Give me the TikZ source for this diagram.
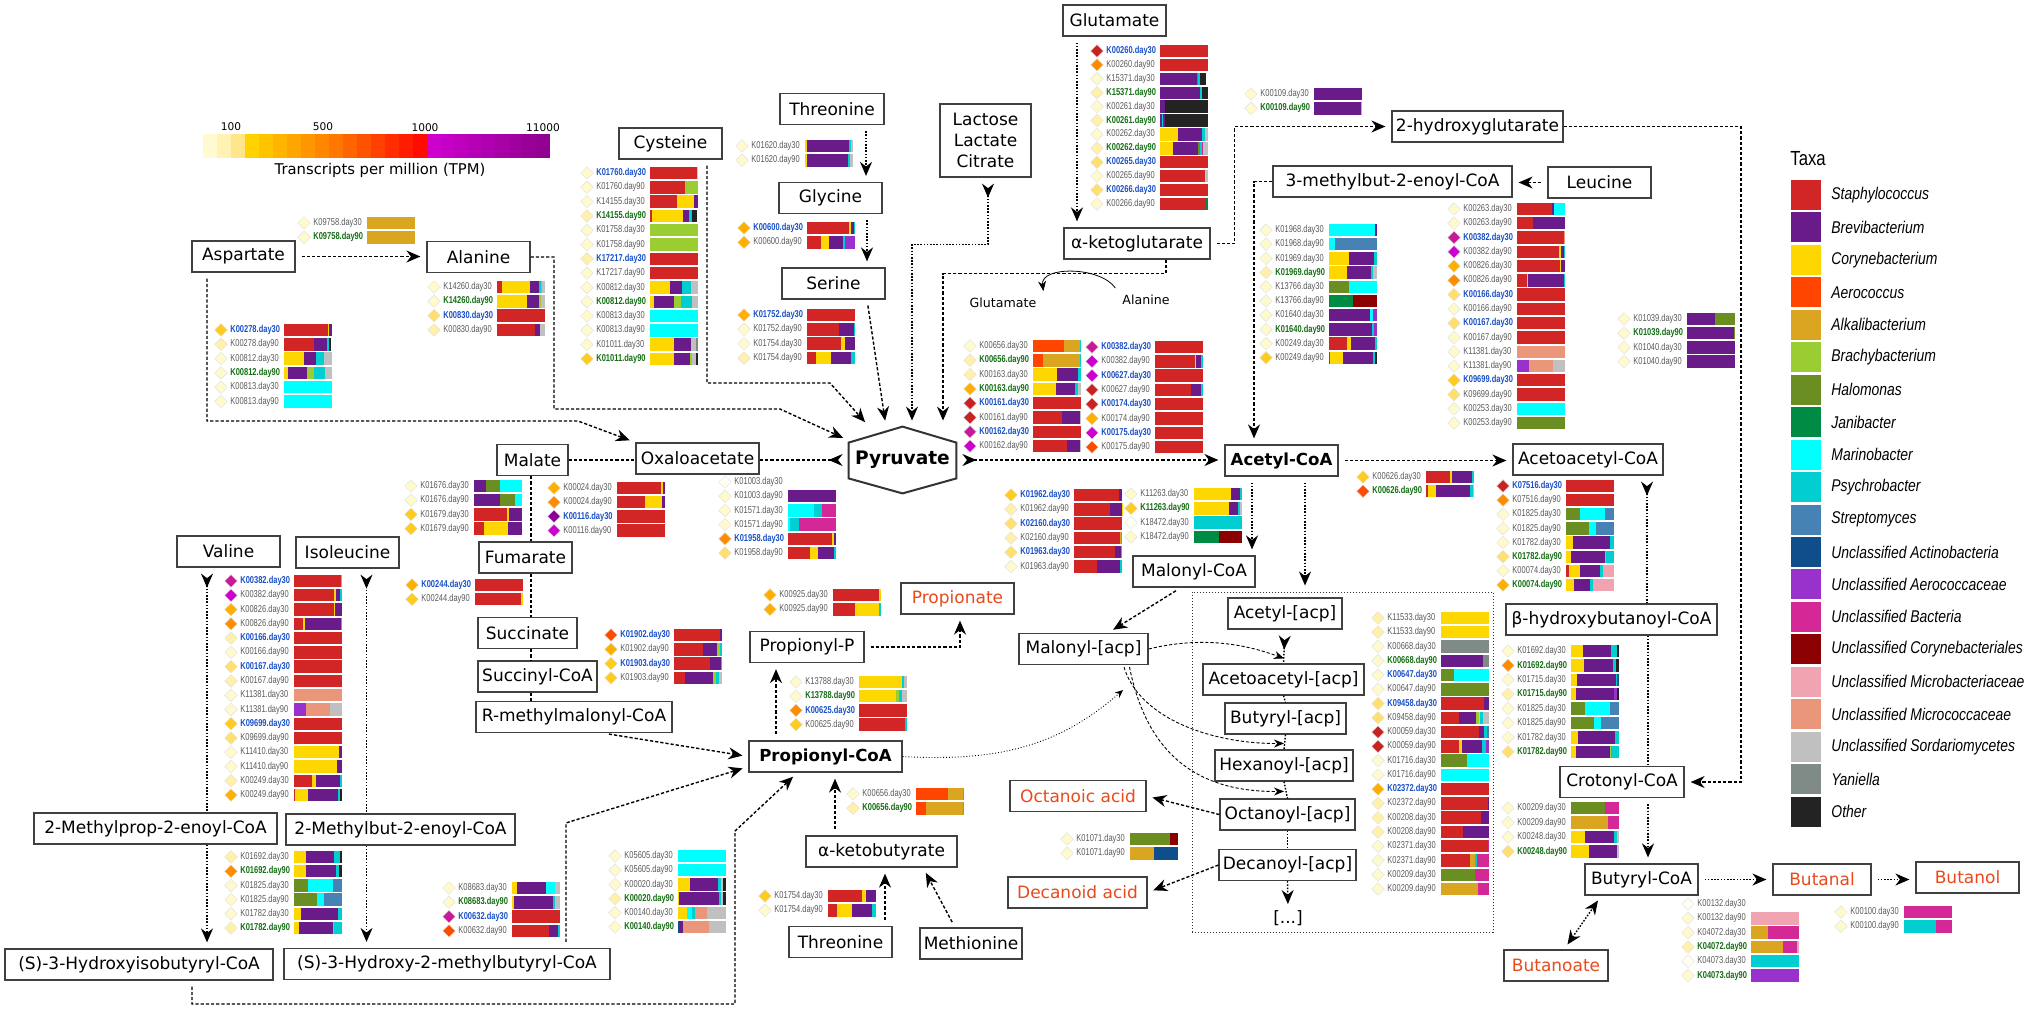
\documentclass[tikz,border=0pt]{standalone}
\usepackage{fontspec}
\setmainfont{DejaVu Sans}
\newfontfamily\genefam[FakeStretch=0.75]{Liberation Sans}
\newfontfamily\legfam[FakeStretch=0.82]{Liberation Sans}
\usetikzlibrary{arrows.meta,shapes.geometric,calc}

\definecolor{Sta}{RGB}{210,38,38}
\definecolor{Bre}{RGB}{106,27,138}
\definecolor{Cor}{RGB}{255,215,0}
\definecolor{Aer}{RGB}{255,69,0}
\definecolor{Alk}{RGB}{218,165,32}
\definecolor{Bra}{RGB}{154,205,50}
\definecolor{Hal}{RGB}{107,142,35}
\definecolor{Jan}{RGB}{0,139,69}
\definecolor{Mar}{RGB}{0,255,255}
\definecolor{Psy}{RGB}{0,206,209}
\definecolor{Str}{RGB}{70,130,180}
\definecolor{UAc}{RGB}{16,78,139}
\definecolor{UAe}{RGB}{153,50,204}
\definecolor{UBa}{RGB}{212,40,150}
\definecolor{UCo}{RGB}{139,0,0}
\definecolor{UMb}{RGB}{240,163,177}
\definecolor{UMc}{RGB}{233,150,122}
\definecolor{USo}{RGB}{192,192,192}
\definecolor{Yan}{RGB}{128,138,135}
\definecolor{Oth}{RGB}{35,35,35}
\definecolor{tp0}{RGB}{255,254,242}
\definecolor{tp1}{RGB}{255,250,205}
\definecolor{tp2}{RGB}{255,240,170}
\definecolor{tp3}{RGB}{255,224,110}
\definecolor{tp4}{RGB}{255,203,30}
\definecolor{tp5}{RGB}{255,175,0}
\definecolor{tp6}{RGB}{255,140,0}
\definecolor{tp7}{RGB}{255,75,0}
\definecolor{tp8}{RGB}{200,35,35}
\definecolor{tp9}{RGB}{205,0,205}
\definecolor{tpm}{RGB}{200,25,150}
\definecolor{tp10}{RGB}{140,0,150}
\definecolor{glgray}{RGB}{90,90,90}
\definecolor{glblue}{RGB}{25,80,200}
\definecolor{glgreen}{RGB}{20,110,20}
\definecolor{prod}{RGB}{232,74,28}

\newcommand\bfnt{\fontsize{8.5}{10.5}\selectfont}
\newcommand\bbfnt{\fontsize{8.3}{10}\selectfont\bfseries}
\newcommand\gfnt{\genefam\fontsize{5}{6}\selectfont}
\newcommand\sfnt{\fontsize{6.3}{7.5}\selectfont}

\tikzset{
  x=0.5pt, y=-0.5pt,
  box/.style={draw=black!75, line width=0.6pt, fill=white, minimum height=15.5pt, inner sep=0pt, font=\bfnt},
  bbox/.style={box, font=\bbfnt},
  pbox/.style={box, text=prod},
  lnk/.style={line width=0.7pt, dash pattern=on 1.6pt off 1pt},
  dlnk/.style={line width=0.7pt, dash pattern=on 0.8pt off 0.8pt},
  fine/.style={line width=0.45pt, dash pattern=on 1.6pt off 1pt},
  hd/.style={-{Stealth[length=7pt,width=6pt]}, shorten >=3pt},
  tl/.style={{Stealth[length=7pt,width=6pt,reversed]}-, shorten <=3pt},
  tlhd/.style={{Stealth[length=7pt,width=6pt,reversed]}-{Stealth[length=7pt,width=6pt]}, shorten <=3pt, shorten >=3pt},
  gp/.style={shorten <=3pt},
  gdia/.style={diamond, minimum size=6.4pt, inner sep=0pt, draw=black!12, line width=0.2pt},
  glab/.style={anchor=west, inner sep=0pt, font=\gfnt},
  gl/.style={text=glgray},
  gb/.style={text=glblue, font=\gfnt\bfseries},
  gv/.style={text=glgreen, font=\gfnt\bfseries}
}

\newcommand\geneset[3]{\xdef\gX{#1}\xdef\gY{#2}\xdef\gS{#3}}
\newcommand\generow[4]{%
  \node[gdia, fill=#1] at (\gX,\gY) {};
  \node[glab, #2] at (\gX+9,\gY) {#3};
  \coordinate (gcur) at (\gX+63,\gY+6.2);
  \foreach \tc/\tw in {#4}{
    \fill[\tc] (gcur) rectangle ++(\tw*48,-12.4) coordinate (gtmp);
    \coordinate (gcur) at ($(gtmp)+(0,12.4)$);
  }
  \pgfmathparse{\gY+\gS}\xdef\gY{\pgfmathresult}%
}

\begin{document}
\begin{tikzpicture}
  \fill[white] (0,0) rectangle (2032,1009);
  \useasboundingbox (0,0) rectangle (2032,1009);

  % colour scale
  \foreach \g/\b [count=\i from 0] in {250/210,242/180,230/140,210/0,195/0,180/0,165/0,150/0,135/0,118/0,100/0,82/0,64/0,45/0,28/0,12/0}{
    \definecolor{cbc}{RGB}{255,\g,\b}
    \fill[cbc] (203+\i*14,134) rectangle ++(14.3,24);
  }
  \foreach \r [count=\i from 0] in {205,198,190,182,175,167,160,152,145}{
    \definecolor{cbc}{RGB}{\r,0,\r}
    \fill[cbc] (427+\i*13.6,134) rectangle ++(13.9,24);
  }
  \node[font=\fontsize{5.3}{6}\selectfont] (cbA) at (231,127) {100};
  \node[font=\fontsize{5.3}{6}\selectfont] (cbB) at (323,127) {500};
  \node[font=\fontsize{5.3}{6}\selectfont] (cbC) at (425,128) {1000};
  \node[font=\fontsize{5.3}{6}\selectfont] (cbD) at (543,128) {11000};
  \node[font=\fontsize{7.4}{9}\selectfont] (cbT) at (380,170) {Transcripts per million (TPM)};

  % legend
  \node[anchor=west, inner sep=0pt, font=\legfam\fontsize{10.2}{12}\selectfont] (taxa) at (1790,159) {Taxa};
  \foreach \tc/\tn [count=\i from 0] in {Sta/Staphylococcus, Bre/Brevibacterium, Cor/Corynebacterium, Aer/Aerococcus, Alk/Alkalibacterium, Bra/Brachybacterium, Hal/Halomonas, Jan/Janibacter, Mar/Marinobacter, Psy/Psychrobacter, Str/Streptomyces, UAc/Unclassified Actinobacteria, UAe/Unclassified Aerococcaceae, UBa/Unclassified Bacteria, UCo/Unclassified Corynebacteriales, UMb/Unclassified Microbacteriaceae, UMc/Unclassified Micrococcaceae, USo/Unclassified Sordariomycetes, Yan/Yaniella, Oth/Other}{
    \fill[\tc] (1791,180+\i*32.45) rectangle ++(30,30);
    \node[anchor=west, inner sep=0pt, font=\legfam\itshape\fontsize{8.5}{10}\selectfont] (leg\i) at (1831,195+\i*32.45) {\tn};
  }

  \node[draw=black!80, densely dotted, line width=0.5pt, minimum width=150.5pt, minimum height=170pt, inner sep=0pt] (fas) at (1342.5,762) {};
  \coordinate (fasin) at (1123,690);

  % compounds
  \node[box, minimum width=51.5pt] (asp) at (243.5,256.5) {Aspartate};
  \node[box, minimum width=51.5pt] (ala) at (478.5,257) {Alanine};
  \node[box, minimum width=51.5pt] (cys) at (670.5,143.5) {Cysteine};
  \node[box, minimum width=52pt] (thr) at (832,109) {Threonine};
  \node[box, minimum width=51.5pt] (gly) at (830.5,198) {Glycine};
  \node[box, minimum width=51.5pt] (ser) at (833.5,283.5) {Serine};
  \node[box, minimum width=45.5pt, minimum height=36.5pt, align=center] (lac) at (985.5,140.5) {Lactose\\Lactate\\Citrate};
  \node[box, minimum width=51.5pt] (glu) at (1114.5,20.5) {Glutamate};
  \node[box, minimum width=73pt] (akg) at (1137,243.5) {α-ketoglutarate};
  \node[box, minimum width=85.5pt] (hg) at (1477.5,126.5) {2-hydroxyglutarate};
  \node[box, minimum width=119.5pt] (mb) at (1392.5,181.5) {3-methylbut-2-enoyl-CoA};
  \node[box, minimum width=51.5pt] (leu) at (1599.5,182.5) {Leucine};
  \node[box, minimum width=35.5pt] (mal) at (532.5,460) {Malate};
  \node[box, minimum width=61.5pt] (oxa) at (697.5,458.5) {Oxaloacetate};
  \node[font=\fontsize{9.3}{11}\selectfont\bfseries, minimum width=53.5pt, minimum height=33pt, inner sep=0pt] (pyr) at (902.5,460) {Pyruvate};
  \draw[line width=1pt, black!80] (pyr.north) -- ($(pyr.north east)+(0,16)$) -- ($(pyr.south east)+(0,-15)$)
    -- (pyr.south) -- ($(pyr.south west)+(0,-15)$) -- ($(pyr.north west)+(0,16)$) -- cycle;
  \node[bbox, minimum width=56.5pt] (acc) at (1281.5,460.5) {Acetyl-CoA};
  \node[box, minimum width=75pt] (aac) at (1588,459.5) {Acetoacetyl-CoA};
  \node[box, minimum width=46.5pt] (fum) at (525.5,557.5) {Fumarate};
  \node[box, minimum width=49.5pt] (suc) at (527.5,633) {Succinate};
  \node[box, minimum width=59.5pt] (sco) at (537.5,676.5) {Succinyl-CoA};
  \node[box, minimum width=98pt] (rmm) at (574,717) {R-methylmalonyl-CoA};
  \node[bbox, minimum width=76.5pt] (pco) at (825.5,756.5) {Propionyl-CoA};
  \node[box, minimum width=57pt] (ppp) at (807,647) {Propionyl-P};
  \node[pbox, minimum width=56.5pt] (ppn) at (957.5,598.5) {Propionate};
  \node[box, minimum width=75.5pt] (akb) at (881.5,851.5) {α-ketobutyrate};
  \node[box, minimum width=51.5pt] (thrb) at (840.5,942) {Threonine};
  \node[box, minimum width=51pt] (met) at (971,943.5) {Methionine};
  \node[box, minimum width=51.5pt] (val) at (228.5,551.5) {Valine};
  \node[box, minimum width=51.5pt] (ile) at (347.5,552.5) {Isoleucine};
  \node[box, minimum width=121.5pt] (mp) at (155.5,828.5) {2-Methylprop-2-enoyl-CoA};
  \node[box, minimum width=114.5pt] (mbu) at (400.5,829.5) {2-Methylbut-2-enoyl-CoA};
  \node[box, minimum width=134pt] (hib) at (139,964.5) {(S)-3-Hydroxyisobutyryl-CoA};
  \node[box, minimum width=163pt] (hmb) at (447,964) {(S)-3-Hydroxy-2-methylbutyryl-CoA};
  \node[box, minimum width=61pt] (mco) at (1194,571.5) {Malonyl-CoA};
  \node[box, minimum width=64.5pt] (macp) at (1083.5,649) {Malonyl-[acp]};
  \node[box, minimum width=57pt] (acp) at (1285,613.5) {Acetyl-[acp]};
  \node[box, minimum width=80.5pt] (aacp) at (1283.5,679.5) {Acetoacetyl-[acp]};
  \node[box, minimum width=60.5pt] (bacp) at (1285.5,718.5) {Butyryl-[acp]};
  \node[box, minimum width=69pt] (hacp) at (1284,765.5) {Hexanoyl-[acp]};
  \node[box, minimum width=67.5pt] (oacp) at (1287.5,814.5) {Octanoyl-[acp]};
  \node[box, minimum width=68.5pt] (dacp) at (1287.5,865) {Decanoyl-[acp]};
  \node[font=\bfnt, inner sep=0pt] (dots) at (1288,918) {[...]};
  \node[pbox, minimum width=68pt] (oca) at (1078,796) {Octanoic acid};
  \node[pbox, minimum width=69.5pt] (dca) at (1077.5,892.5) {Decanoid acid};
  \node[box, minimum width=105.5pt] (bhb) at (1611.5,619.5) {β-hydroxybutanoyl-CoA};
  \node[box, minimum width=62pt] (cro) at (1622,782) {Crotonyl-CoA};
  \node[box, minimum width=56.5pt] (bco) at (1641.5,879.5) {Butyryl-CoA};
  \node[pbox, minimum width=49pt] (bal) at (1822,879.5) {Butanal};
  \node[pbox, minimum width=51.5pt] (bol) at (1967.5,877.5) {Butanol};
  \node[pbox, minimum width=52pt] (bat) at (1556,965.5) {Butanoate};
  \node[font=\sfnt] (gluT) at (1003,303) {Glutamate};
  \node[font=\sfnt] (alaT) at (1146,300) {Alanine};

  % connectors
  \draw[lnk,hd,gp] (asp.east) -- (asp.east -| ala.west);
  \draw[lnk,hd,gp] ($(asp.south)+(-36.5,0)$) |- (578,421) -- (oxa.north west);
  \draw[lnk,hd] (ala.east) -| (554,409) -- (780,409) -- (pyr.160);
  \draw[lnk,hd,gp] ($(cys.south)+(36.5,0)$) |- (830,383) -- (pyr.135);
  \draw[dlnk,hd,gp] ($(thr.south)+(34,0)$) -- ($(gly.north)+(35.5,0)$);
  \draw[dlnk,hd,gp] ($(gly.south)+(36.5,0)$) -- ($(ser.north)+(33.5,0)$);
  \draw[lnk,hd,gp] ($(ser.south)+(33.5,0)$) -- ($(pyr.north)+(-16.5,0)$);
  \draw[dlnk,tlhd] ($(lac.south)+(2.5,0)$) -- ++(0,67) -| ($(pyr.north)+(9.5,0)$);
  \draw[lnk,hd] ($(akg.south)+(29,0)$) -- ++(0,14) -| ($(pyr.north)+(40.5,0)$);
  \draw[line width=0.4pt, -{Stealth[length=5pt,width=4pt]}] (alaT.north west) .. controls (1100,266) and (1040,266) .. (gluT.north east);
  \draw[dlnk,hd,gp] ($(glu.south)+(-37.5,0)$) -- ($(akg.north)+(-60,0)$);
  \draw[lnk,hd,gp] (akg.east) -- ++(24,0) |- (hg.west);
  \draw[lnk,hd] (hg.east) -| (1741,782) -- (cro.east);
  \draw[lnk,hd,gp] (leu.west) -- (leu.west -| mb.east);
  \draw[lnk,hd] (mb.west) -| ($(acc.north)+(-27.5,0)$);
  \draw[lnk,tl] (pyr.west) -- (pyr.west -| oxa.east);
  \draw[lnk,tlhd] (pyr.east) -- (pyr.east -| acc.west);
  \draw[lnk] (mal.east) -- (mal.east -| oxa.west);
  \draw[lnk] ($(mal.south)+(-1.5,0)$) -- ($(fum.north)+(5.5,0)$);
  \draw[lnk] ($(fum.south)+(5.5,0)$) -- ($(suc.north)+(3.5,0)$);
  \draw[lnk] ($(suc.south)+(3.5,0)$) -- ($(sco.north)+(-6.5,0)$);
  \draw[lnk] ($(sco.south)+(-6.5,0)$) -- ($(rmm.north)+(-43,0)$);
  \draw[lnk,hd,gp] ($(rmm.south)+(29,0)$) -- (pco.west);
  \draw[lnk,hd,gp] ($(pco.north)+(-49.5,0)$) -- ($(ppp.south)+(-31,0)$);
  \draw[lnk,hd,gp] (ppp.east) -| ($(ppn.south)+(2.5,0)$);
  \draw[lnk,hd,gp] ($(akb.north)+(-46.5,0)$) -- ($(pco.south)+(9.5,0)$);
  \draw[lnk,hd,gp] ($(thrb.north)+(44.5,0)$) -- ($(akb.south)+(3.5,0)$);
  \draw[lnk,hd,gp] ($(met.north)+(-16,0)$) -- ($(akb.south)+(41.5,0)$);
  \draw[dlnk,tl] ($(val.south)+(-21.5,0)$) -- ($(mp.north)+(51.5,0)$);
  \draw[dlnk,hd] ($(mp.south)+(51.5,0)$) -- ($(hib.north)+(68,0)$);
  \draw[dlnk,tl] ($(ile.south)+(19,0)$) -- ($(mbu.north)+(-34,0)$);
  \draw[dlnk,hd] ($(mbu.south)+(-34,0)$) -- ($(hmb.north)+(-80.5,0)$);
  \draw[lnk,hd,gp] ($(hib.south)+(53,0)$) |- (735,1004) -- (735,831) -- ($(pco.south)+(-28,0)$);
  \draw[lnk,hd,gp] ($(hmb.north)+(119,0)$) -- ++(0,-125) -- ($(pco.south west)+(0,-6)$);
  \draw[line width=0.45pt, densely dotted, -{Stealth[length=4pt,width=3.5pt]}] (pco.east) .. controls (1000,762) and (1060,745) .. (fasin);
  \draw[dlnk,hd,gp] ($(acc.south)+(-29.5,0)$) -- ($(mco.north)+(58,0)$);
  \draw[dlnk,hd,gp] ($(acc.south)+(23.5,0)$) -- ($(fas.north)+(-37.5,0)$);
  \draw[lnk,hd,gp] (acc.east) -- (acc.east -| aac.west);
  \draw[lnk,hd,gp] ($(mco.south)+(-13,0)$) -- ($(macp.north)+(24.5,0)$);
  \draw[fine,-{Stealth[length=5pt,width=4pt]}] (macp.east) .. controls (1210,634) and (1255,648) .. ($(aacp.north)+(0.5,-5)$);
  \draw[fine,-{Stealth[length=5pt,width=4pt]}] ($(macp.south)+(40.5,2)$) .. controls (1140,720) and (1215,744) .. ($(hacp.north)+(0,-6)$);
  \draw[fine,-{Stealth[length=5pt,width=4pt]}] ($(macp.south)+(46,2)$) .. controls (1150,770) and (1215,792) .. ($(oacp.north)+(-3.5,-7)$);
  \draw[dlnk,tl] (acp.south) -- (aacp.north);
  \draw[dlnk] (aacp.south) -- (bacp.north);
  \draw[dlnk] (bacp.south) -- (hacp.north);
  \draw[dlnk] (hacp.south) -- (oacp.north);
  \draw[dlnk] (oacp.south) -- (dacp.north);
  \draw[dlnk,hd] (dacp.south) -- (dots.north);
  \draw[lnk,hd] (oacp.west) -- (oca.east);
  \draw[lnk,hd] (dacp.west) -- (dca.east);
  \draw[dlnk,tl] ($(aac.south)+(59,0)$) -- ($(bhb.north)+(35.5,0)$);
  \draw[dlnk] ($(bhb.south)+(36.5,0)$) -- ($(cro.north)+(26,0)$);
  \draw[dlnk,hd,gp] ($(cro.south)+(26,0)$) -- ($(bco.north)+(6.5,0)$);
  \draw[dlnk,hd,gp] (bco.east) -- (bal.west);
  \draw[dlnk,hd,gp] (bal.east) -- (bal.east -| bol.west);
  \draw[dlnk,{Stealth[length=7pt,width=6pt]}-{Stealth[length=7pt,width=6pt]}, shorten <=3pt, shorten >=3pt] ($(bat.north)+(8,0)$) -- ($(bco.south west)+(17,0)$);

  % gene rows
  \geneset{304}{223}{14.3}
  \generow{tp1}{gl}{K09758.day30}{Alk/1}
  \generow{tp1}{gv}{K09758.day90}{Alk/1}

  \geneset{434}{287}{14.3}
  \generow{tp1}{gl}{K14260.day30}{Sta/.1,Cor/.58,Bre/.19,Psy/.04,Bra/.03,USo/.06}
  \generow{tp1}{gv}{K14260.day90}{Cor/.62,Bre/.26,Bra/.04,USo/.08}
  \generow{tp3}{gb}{K00830.day30}{Sta/1}
  \generow{tp2}{gl}{K00830.day90}{Sta/.8,Bre/.1,USo/.1}

  \geneset{221}{330}{14.3}
  \generow{tp4}{gb}{K00278.day30}{Sta/.91,Cor/.03,Bre/.06}
  \generow{tp2}{gl}{K00278.day90}{Sta/.62,Bre/.28,Psy/.04,Oth/.04}
  \generow{tp1}{gl}{K00812.day30}{Cor/.42,Bre/.25,Psy/.17,USo/.16}
  \generow{tp1}{gv}{K00812.day90}{Cor/.08,Bre/.4,Bra/.14,Psy/.24,USo/.14}
  \generow{tp1}{gl}{K00813.day30}{Mar/1}
  \generow{tp1}{gl}{K00813.day90}{Mar/1}

  \geneset{587}{173}{14.3}
  \generow{tp1}{gb}{K01760.day30}{Sta/.97,Cor/.03}
  \generow{tp1}{gl}{K01760.day90}{Sta/.72,Bra/.28}
  \generow{tp1}{gl}{K14155.day30}{Sta/.57,Cor/.34,Bre/.09}
  \generow{tp2}{gv}{K14155.day90}{Sta/.05,Cor/.64,Bre/.13,Psy/.06,Oth/.09}
  \generow{tp1}{gl}{K01758.day30}{Bra/1}
  \generow{tp1}{gl}{K01758.day90}{Bra/1}
  \generow{tp2}{gb}{K17217.day30}{Sta/1}
  \generow{tp1}{gl}{K17217.day90}{Sta/1}
  \generow{tp1}{gl}{K00812.day30}{Cor/.42,Bre/.25,Psy/.18,USo/.15}
  \generow{tp1}{gv}{K00812.day90}{Cor/.08,Bre/.42,Bra/.14,Psy/.24,USo/.12}
  \generow{tp1}{gl}{K00813.day30}{Mar/1}
  \generow{tp1}{gl}{K00813.day90}{Mar/1}
  \generow{tp1}{gl}{K01011.day30}{Cor/.51,Bre/.34,USo/.1,Yan/.05}
  \generow{tp4}{gv}{K01011.day90}{Cor/.5,Bre/.33,Bra/.05,USo/.07,Oth/.05}

  \geneset{742}{146}{14.3}
  \generow{tp1}{gl}{K01620.day30}{Cor/.05,Bre/.86,Psy/.04,USo/.05}
  \generow{tp1}{gl}{K01620.day90}{Cor/.04,Bre/.86,Psy/.04,USo/.06}

  \geneset{744}{228}{14.3}
  \generow{tp5}{gb}{K00600.day30}{Sta/.88,Cor/.03,Bre/.06,Psy/.03}
  \generow{tp5}{gl}{K00600.day90}{Sta/.3,Cor/.16,Bre/.28,Psy/.06,UAe/.2}

  \geneset{744}{315}{14.3}
  \generow{tp5}{gb}{K01752.day30}{Sta/1}
  \generow{tp1}{gl}{K01752.day90}{Sta/.67,Bre/.3,Psy/.03}
  \generow{tp1}{gl}{K01754.day30}{Sta/.7,Cor/.1,Bre/.2}
  \generow{tp2}{gl}{K01754.day90}{Sta/.18,Cor/.32,Bre/.42,Psy/.08}

  \geneset{1097}{51}{13.9}
  \generow{tp8}{gb}{K00260.day30}{Sta/1}
  \generow{tp6}{gl}{K00260.day90}{Sta/1}
  \generow{tp1}{gl}{K15371.day30}{Bre/.76,Hal/.03,Psy/.05,Oth/.12}
  \generow{tp2}{gv}{K15371.day90}{Bre/.84,Psy/.03,Oth/.13}
  \generow{tp1}{gl}{K00261.day30}{Bre/.1,Oth/.9}
  \generow{tp2}{gv}{K00261.day90}{Bre/.04,Psy/.03,Bre/.03,Oth/.9}
  \generow{tp1}{gl}{K00262.day30}{Cor/.38,Bre/.5,Psy/.05,USo/.07}
  \generow{tp2}{gv}{K00262.day90}{Cor/.27,Bre/.53,Hal/.03,Psy/.04,UBa/.03,USo/.1}
  \generow{tp3}{gb}{K00265.day30}{Sta/1}
  \generow{tp1}{gl}{K00265.day90}{Sta/.93,Cor/.02,USo/.05}
  \generow{tp3}{gb}{K00266.day30}{Sta/1}
  \generow{tp1}{gl}{K00266.day90}{Sta/.95,Jan/.05}

  \geneset{1251}{94}{14.3}
  \generow{tp1}{gl}{K00109.day30}{Bre/1}
  \generow{tp1}{gv}{K00109.day90}{Bre/.98,Mar/.02}

  \geneset{1266}{230}{14.2}
  \generow{tp1}{gl}{K01968.day30}{Mar/.96,Bre/.04}
  \generow{tp1}{gl}{K01968.day90}{Mar/.12,Str/.88}
  \generow{tp1}{gl}{K01969.day30}{Cor/.42,Bre/.52,Psy/.06}
  \generow{tp2}{gv}{K01969.day90}{Cor/.38,Bre/.5,Psy/.04,USo/.08}
  \generow{tp1}{gl}{K13766.day30}{Hal/.42,Mar/.58}
  \generow{tp1}{gl}{K13766.day90}{Jan/.5,UCo/.5}
  \generow{tp1}{gl}{K01640.day30}{Bre/.86,Mar/.06,UAe/.08}
  \generow{tp1}{gv}{K01640.day90}{Bre/.9,Psy/.04,UAe/.06}
  \generow{tp1}{gl}{K00249.day30}{Sta/.37,Cor/.08,Bre/.5,Psy/.05}
  \generow{tp4}{gl}{K00249.day90}{Sta/.03,Cor/.27,Bre/.62,Psy/.04,Oth/.04}

  \geneset{1454}{209}{14.27}
  \generow{tp1}{gl}{K00263.day30}{Sta/.72,Bre/.04,Mar/.24}
  \generow{tp1}{gl}{K00263.day90}{Sta/.33,Bre/.67}
  \generow{tpm}{gb}{K00382.day30}{Sta/.98,UMc/.02}
  \generow{tp9}{gl}{K00382.day90}{Sta/.88,Cor/.03,Bre/.06,Psy/.03}
  \generow{tp5}{gl}{K00826.day30}{Sta/.9,Cor/.02,Bre/.08}
  \generow{tp6}{gl}{K00826.day90}{Sta/.2,Cor/.03,Bre/.74,Psy/.03}
  \generow{tp3}{gb}{K00166.day30}{Sta/1}
  \generow{tp1}{gl}{K00166.day90}{Sta/1}
  \generow{tp3}{gb}{K00167.day30}{Sta/1}
  \generow{tp1}{gl}{K00167.day90}{Sta/1}
  \generow{tp1}{gl}{K11381.day30}{UMc/1}
  \generow{tp1}{gl}{K11381.day90}{UAe/.25,UMc/.5,USo/.25}
  \generow{tp4}{gb}{K09699.day30}{Sta/1}
  \generow{tp3}{gl}{K09699.day90}{Sta/1}
  \generow{tp1}{gl}{K00253.day30}{Mar/1}
  \generow{tp1}{gl}{K00253.day90}{Hal/1}

  \geneset{1624}{319}{14.2}
  \generow{tp1}{gl}{K01039.day30}{Bre/.58,Hal/.42}
  \generow{tp1}{gv}{K01039.day90}{Bre/.98,Hal/.02}
  \generow{tp1}{gl}{K01040.day30}{Bre/1}
  \generow{tp1}{gl}{K01040.day90}{Bre/1}

  \geneset{970}{346}{14.3}
  \generow{tp1}{gl}{K00656.day30}{Aer/.65,Alk/.32,Psy/.03}
  \generow{tp2}{gv}{K00656.day90}{Aer/.2,Alk/.77,Psy/.03}
  \generow{tp2}{gl}{K00163.day30}{Cor/.5,Bre/.43,Psy/.07}
  \generow{tp5}{gv}{K00163.day90}{Cor/.48,Bre/.4,Psy/.05,USo/.07}
  \generow{tp8}{gb}{K00161.day30}{Sta/1}
  \generow{tp8}{gl}{K00161.day90}{Sta/.6,Bre/.37,USo/.03}
  \generow{tpm}{gb}{K00162.day30}{Sta/1}
  \generow{tp9}{gl}{K00162.day90}{Sta/.7,Bre/.28,USo/.02}

  \geneset{1092}{347}{14.3}
  \generow{tpm}{gb}{K00382.day30}{Sta/1}
  \generow{tp9}{gl}{K00382.day90}{Sta/.83,Cor/.03,Bre/.1,Psy/.04}
  \generow{tp9}{gb}{K00627.day30}{Sta/1}
  \generow{tp8}{gl}{K00627.day90}{Sta/.74,Bre/.22,Psy/.04}
  \generow{tp8}{gb}{K00174.day30}{Sta/1}
  \generow{tp5}{gl}{K00174.day90}{Sta/1}
  \generow{tp9}{gb}{K00175.day30}{Sta/1}
  \generow{tp7}{gl}{K00175.day90}{Sta/1}

  \geneset{411}{486}{14.2}
  \generow{tp1}{gl}{K01676.day30}{Bre/.24,Hal/.31,Mar/.45}
  \generow{tp1}{gl}{K01676.day90}{Bre/.55,Hal/.3,Mar/.15}
  \generow{tp4}{gl}{K01679.day30}{Sta/.69,Cor/.04,Bre/.27}
  \generow{tp4}{gl}{K01679.day90}{Sta/.2,Cor/.5,Bre/.3}

  \geneset{554}{488}{14.2}
  \generow{tp5}{gl}{K00024.day30}{Sta/.92,Cor/.04,Bre/.04}
  \generow{tp6}{gl}{K00024.day90}{Sta/.58,Cor/.36,Bre/.06}
  \generow{tp10}{gb}{K00116.day30}{Sta/1}
  \generow{tp9}{gl}{K00116.day90}{Sta/1}

  \geneset{412}{585}{14.2}
  \generow{tp5}{gb}{K00244.day30}{Sta/1}
  \generow{tp4}{gl}{K00244.day90}{Sta/.95,Cor/.05}

  \geneset{725}{482}{14.2}
  \generow{tp0}{gl}{K01003.day30}{white/0}
  \generow{tp1}{gl}{K01003.day90}{Bre/1}
  \generow{tp1}{gl}{K01571.day30}{Mar/.55,Psy/.15,UBa/.3}
  \generow{tp1}{gl}{K01571.day90}{Mar/.05,Psy/.17,UBa/.78}
  \generow{tp6}{gb}{K01958.day30}{Sta/.92,Cor/.03,Bre/.05}
  \generow{tp3}{gl}{K01958.day90}{Sta/.45,Cor/.18,Bre/.33,Psy/.04}

  \geneset{770}{595}{14.3}
  \generow{tp5}{gl}{K00925.day30}{Sta/.95,Cor/.05}
  \generow{tp5}{gl}{K00925.day90}{Sta/.45,Cor/.5,Psy/.05}

  \geneset{611}{635}{14.3}
  \generow{tp7}{gb}{K01902.day30}{Sta/.95,Bre/.05}
  \generow{tp5}{gl}{K01902.day90}{Sta/.6,Bre/.3,Bra/.05,Psy/.05}
  \generow{tp4}{gb}{K01903.day30}{Sta/.75,Bre/.22,Psy/.03}
  \generow{tp4}{gl}{K01903.day90}{Sta/.22,Bre/.6,Bra/.06,Psy/.06,USo/.06}

  \geneset{796}{682}{14.2}
  \generow{tp1}{gl}{K13788.day30}{Cor/.9,Psy/.04,USo/.06}
  \generow{tp1}{gv}{K13788.day90}{Cor/.78,Bra/.06,Psy/.06,USo/.1}
  \generow{tp6}{gb}{K00625.day30}{Sta/1}
  \generow{tp4}{gl}{K00625.day90}{Sta/.95,Psy/.05}

  \geneset{853}{794}{14.3}
  \generow{tp1}{gl}{K00656.day30}{Aer/.66,Alk/.31,Psy/.03}
  \generow{tp2}{gv}{K00656.day90}{Aer/.2,Alk/.77,Psy/.03}

  \geneset{765}{896}{14.3}
  \generow{tp4}{gl}{K01754.day30}{Sta/.7,Cor/.1,Bre/.2}
  \generow{tp1}{gl}{K01754.day90}{Sta/.18,Cor/.32,Bre/.42,Psy/.08}

  \geneset{231}{581}{14.27}
  \generow{tpm}{gb}{K00382.day30}{Sta/.98,UMc/.02}
  \generow{tp9}{gl}{K00382.day90}{Sta/.84,Cor/.03,Bre/.09,Psy/.04}
  \generow{tp5}{gl}{K00826.day30}{Sta/.83,Cor/.02,Bre/.15}
  \generow{tp6}{gl}{K00826.day90}{Sta/.18,Cor/.05,Bre/.74,Psy/.03}
  \generow{tp2}{gb}{K00166.day30}{Sta/1}
  \generow{tp1}{gl}{K00166.day90}{Sta/1}
  \generow{tp3}{gb}{K00167.day30}{Sta/1}
  \generow{tp2}{gl}{K00167.day90}{Sta/1}
  \generow{tp1}{gl}{K11381.day30}{UMc/1}
  \generow{tp1}{gl}{K11381.day90}{UAe/.25,UMc/.5,USo/.25}
  \generow{tp4}{gb}{K09699.day30}{Sta/1}
  \generow{tp3}{gl}{K09699.day90}{Sta/1}
  \generow{tp1}{gl}{K11410.day30}{Cor/.94,Bre/.06}
  \generow{tp1}{gl}{K11410.day90}{Cor/.9,Bre/.1}
  \generow{tp2}{gl}{K00249.day30}{Sta/.37,Cor/.08,Bre/.5,Psy/.05}
  \generow{tp5}{gl}{K00249.day90}{Sta/.03,Cor/.27,Bre/.62,Psy/.04,Oth/.04}

  \geneset{231}{857}{14.2}
  \generow{tp2}{gl}{K01692.day30}{Cor/.25,Bre/.59,Psy/.12,Oth/.04}
  \generow{tp6}{gv}{K01692.day90}{Cor/.26,Bre/.62,Psy/.06,Oth/.06}
  \generow{tp1}{gl}{K01825.day30}{Hal/.3,Mar/.52,Str/.18}
  \generow{tp1}{gl}{K01825.day90}{Hal/.48,Mar/.15,Str/.37}
  \generow{tp1}{gl}{K01782.day30}{Cor/.14,Bre/.78,Psy/.08}
  \generow{tp2}{gv}{K01782.day90}{Cor/.1,Bre/.72,Bra/.02,Psy/.16}

  \geneset{449}{888}{14.3}
  \generow{tp1}{gl}{K08683.day30}{Cor/.1,Bre/.6,Mar/.2,USo/.1}
  \generow{tp1}{gv}{K08683.day90}{Cor/.05,Bre/.8,Psy/.05,USo/.1}
  \generow{tpm}{gb}{K00632.day30}{Sta/1}
  \generow{tp7}{gl}{K00632.day90}{Sta/.78,Bre/.17,Psy/.05}

  \geneset{615}{856}{14.2}
  \generow{tp1}{gl}{K05605.day30}{Mar/1}
  \generow{tp1}{gl}{K05605.day90}{Mar/1}
  \generow{tp1}{gl}{K00020.day30}{Cor/.24,Bre/.6,Psy/.05,USo/.04,Oth/.07}
  \generow{tp2}{gv}{K00020.day90}{Cor/.03,Bre/.83,Psy/.04,USo/.03,Oth/.07}
  \generow{tp1}{gl}{K00140.day30}{Cor/.19,Mar/.1,Psy/.07,UMc/.24,USo/.4}
  \generow{tp1}{gv}{K00140.day90}{UAc/.04,Bre/.06,UMc/.55,USo/.35}

  \geneset{1363}{477}{14.2}
  \generow{tp4}{gl}{K00626.day30}{Sta/.5,Cor/.05,Bre/.4,Psy/.05}
  \generow{tp7}{gv}{K00626.day90}{Sta/.05,Cor/.15,Bre/.72,Psy/.05,USo/.03}

  \geneset{1011}{495}{14.3}
  \generow{tp4}{gb}{K01962.day30}{Sta/.93,Bre/.07}
  \generow{tp2}{gl}{K01962.day90}{Sta/.75,Bre/.24,Cor/.01}
  \generow{tp3}{gb}{K02160.day30}{Sta/1}
  \generow{tp2}{gl}{K02160.day90}{Sta/.95,Alk/.03,Psy/.02}
  \generow{tp3}{gb}{K01963.day30}{Sta/.85,Bre/.13,Psy/.02}
  \generow{tp1}{gl}{K01963.day90}{Sta/.47,Bre/.48,Psy/.05}

  \geneset{1131}{494}{14.3}
  \generow{tp1}{gl}{K11263.day30}{Cor/.78,Bre/.18,Psy/.04}
  \generow{tp4}{gv}{K11263.day90}{Cor/.72,Bre/.2,Psy/.04,USo/.04}
  \generow{tp0}{gl}{K18472.day30}{Psy/1}
  \generow{tp1}{gl}{K18472.day90}{Jan/.52,UCo/.48}

  \geneset{1067}{839}{14.3}
  \generow{tp1}{gl}{K01071.day30}{Hal/.83,UCo/.17}
  \generow{tp1}{gl}{K01071.day90}{Alk/.5,UAc/.5}

  \geneset{1378}{618}{14.26}
  \generow{tp2}{gl}{K11533.day30}{Cor/1}
  \generow{tp2}{gl}{K11533.day90}{Cor/1}
  \generow{tp1}{gl}{K00668.day30}{Yan/1}
  \generow{tp1}{gv}{K00668.day90}{Bre/.87,Yan/.13}
  \generow{tp1}{gb}{K00647.day30}{Hal/.28,Mar/.72}
  \generow{tp1}{gl}{K00647.day90}{Hal/1}
  \generow{tp3}{gb}{K09458.day30}{Sta/.9,Bre/.1}
  \generow{tp3}{gl}{K09458.day90}{Sta/.38,Bre/.35,Bra/.06,Cor/.03,Psy/.05,USo/.13}
  \generow{tp8}{gl}{K00059.day30}{Sta/.8,Bre/.1,Psy/.05,Str/.05}
  \generow{tp8}{gl}{K00059.day90}{Sta/.37,Cor/.06,Bre/.42,Psy/.08,UAe/.07}
  \generow{tp1}{gl}{K01716.day30}{Hal/.54,Mar/.46}
  \generow{tp1}{gl}{K01716.day90}{Mar/1}
  \generow{tp5}{gb}{K02372.day30}{Sta/1}
  \generow{tp2}{gl}{K02372.day90}{Sta/.97,Bre/.03}
  \generow{tp2}{gl}{K00208.day30}{Sta/.84,Bre/.16}
  \generow{tp2}{gl}{K00208.day90}{Sta/.45,Bre/.55}
  \generow{tp1}{gl}{K02371.day30}{Sta/.98,UBa/.02}
  \generow{tp1}{gl}{K02371.day90}{Sta/.6,Alk/.1,Psy/.05,UBa/.25}
  \generow{tp1}{gl}{K00209.day30}{Hal/.7,UBa/.3}
  \generow{tp1}{gl}{K00209.day90}{Alk/.78,UBa/.22}

  \geneset{1503}{486}{14.14}
  \generow{tp8}{gb}{K07516.day30}{Sta/1}
  \generow{tp6}{gl}{K07516.day90}{Sta/1}
  \generow{tp1}{gl}{K01825.day30}{Hal/.3,Mar/.52,Str/.18}
  \generow{tp1}{gl}{K01825.day90}{Hal/.48,Mar/.15,Str/.37}
  \generow{tp1}{gl}{K01782.day30}{Cor/.14,Bre/.78,Psy/.08}
  \generow{tp3}{gv}{K01782.day90}{Cor/.1,Bre/.72,Bra/.02,Psy/.16}
  \generow{tp1}{gl}{K00074.day30}{Sta/.07,Cor/.23,Bre/.4,Psy/.06,UMb/.24}
  \generow{tp5}{gv}{K00074.day90}{Cor/.17,Bre/.33,Psy/.07,UMb/.43}

  \geneset{1508}{651}{14.4}
  \generow{tp1}{gl}{K01692.day30}{Cor/.25,Bre/.58,Psy/.12,Oth/.05}
  \generow{tp6}{gv}{K01692.day90}{Cor/.26,Bre/.62,Psy/.06,Oth/.06}
  \generow{tp1}{gl}{K01715.day30}{Cor/.13,Bre/.8,Psy/.03,UAc/.04}
  \generow{tp2}{gv}{K01715.day90}{Cor/.1,Bre/.8,UAe/.05,Oth/.05}
  \generow{tp1}{gl}{K01825.day30}{Hal/.3,Mar/.52,Str/.18}
  \generow{tp1}{gl}{K01825.day90}{Hal/.48,Mar/.15,Str/.37}
  \generow{tp1}{gl}{K01782.day30}{Cor/.14,Bre/.78,Psy/.08}
  \generow{tp3}{gv}{K01782.day90}{Cor/.1,Bre/.72,Bra/.02,Psy/.16}

  \geneset{1508}{808}{14.5}
  \generow{tp1}{gl}{K00209.day30}{Hal/.7,UBa/.3}
  \generow{tp1}{gl}{K00209.day90}{Alk/.78,UBa/.22}
  \generow{tp1}{gl}{K00248.day30}{Cor/.3,Bre/.6,Psy/.05,USo/.05}
  \generow{tp3}{gv}{K00248.day90}{Cor/.38,Bre/.57,USo/.05}

  \geneset{1688}{904}{14.3}
  \generow{tp0}{gl}{K00132.day30}{white/0}
  \generow{tp1}{gl}{K00132.day90}{UMb/1}
  \generow{tp1}{gl}{K04072.day30}{Alk/.35,UBa/.65}
  \generow{tp2}{gv}{K04072.day90}{Alk/.66,UBa/.3,UMb/.04}
  \generow{tp0}{gl}{K04073.day30}{Psy/1}
  \generow{tp1}{gv}{K04073.day90}{UAe/1}

  \geneset{1841}{912}{14.3}
  \generow{tp1}{gl}{K00100.day30}{UBa/1}
  \generow{tp1}{gl}{K00100.day90}{Psy/.67,UBa/.33}
\end{tikzpicture}
\end{document}
